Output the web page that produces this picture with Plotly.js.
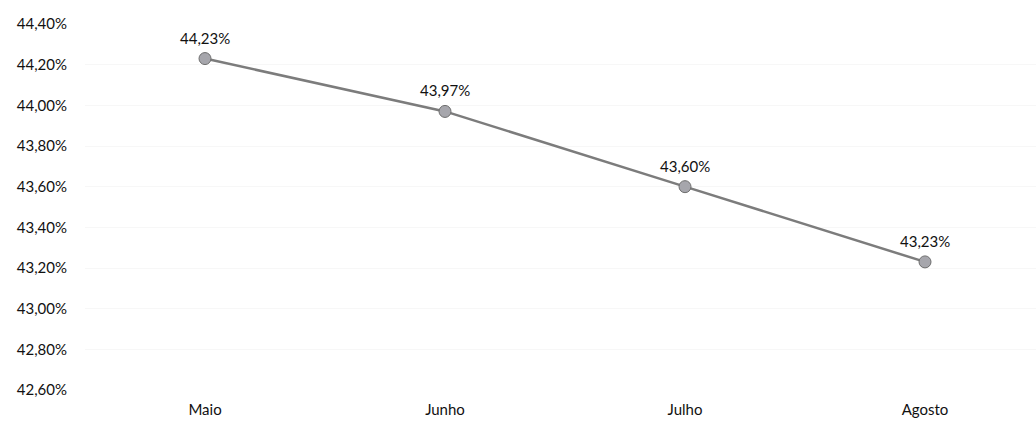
<!DOCTYPE html>
<html><head><meta charset="utf-8">
<script src="https://cdn.plot.ly/plotly-3.0.1.min.js"></script>
<style>html,body{margin:0;padding:0;background:#fff}#c{width:1036px;height:423px}</style>
</head><body><div id="c"></div>
<script>
const categories = ["Maio", "Junho", "Julho", "Agosto"];
const values = [44.23, 43.97, 43.60, 43.23];
const yTicks = [42.6, 42.8, 43.0, 43.2, 43.4, 43.6, 43.8, 44.0, 44.2, 44.4];

const fmt = v => v.toFixed(2).replace('.', ',') + '%';
const FONT = 'Lato, "Open Sans", sans-serif';

const trace = {
  x: [0, 1, 2, 3], y: values, type: 'scatter', mode: 'lines+markers',
  line: {color: '#7c7c7c', width: 2.5},
  marker: {size: 12, color: '#a6a6ac', line: {color: '#6e6e6e', width: 1}},
  hoverinfo: 'none', cliponaxis: false
};
const annotations = values.map((v, i) => ({
  x: i, y: v, xref: 'x', yref: 'y', text: fmt(v), showarrow: false,
  yshift: 21, font: {family: FONT, size: 15, color: '#111'}
}));
const layout = {
  width: 1036, height: 423,
  margin: {l: 85, r: 0, t: 24, b: 33},
  paper_bgcolor: '#fff', plot_bgcolor: '#fff', showlegend: false,
  font: {family: FONT, size: 15, color: '#111'},
  annotations: annotations,
  xaxis: {range: [-0.5, 3.4625], tickvals: [0, 1, 2, 3], ticktext: categories,
          showgrid: false, zeroline: false, showline: false,
          ticks: 'outside', ticklen: 6, tickcolor: 'rgba(0,0,0,0)'},
  yaxis: {range: [42.6, 44.4], tickvals: yTicks, ticktext: yTicks.map(fmt),
          showgrid: true, gridcolor: '#f7f7f7', gridwidth: 1, zeroline: false, showline: false,
          ticks: 'outside', ticklen: 14, tickcolor: 'rgba(0,0,0,0)'}
};
Plotly.newPlot('c', [trace], layout, {displayModeBar: false, staticPlot: true});
</script></body></html>
